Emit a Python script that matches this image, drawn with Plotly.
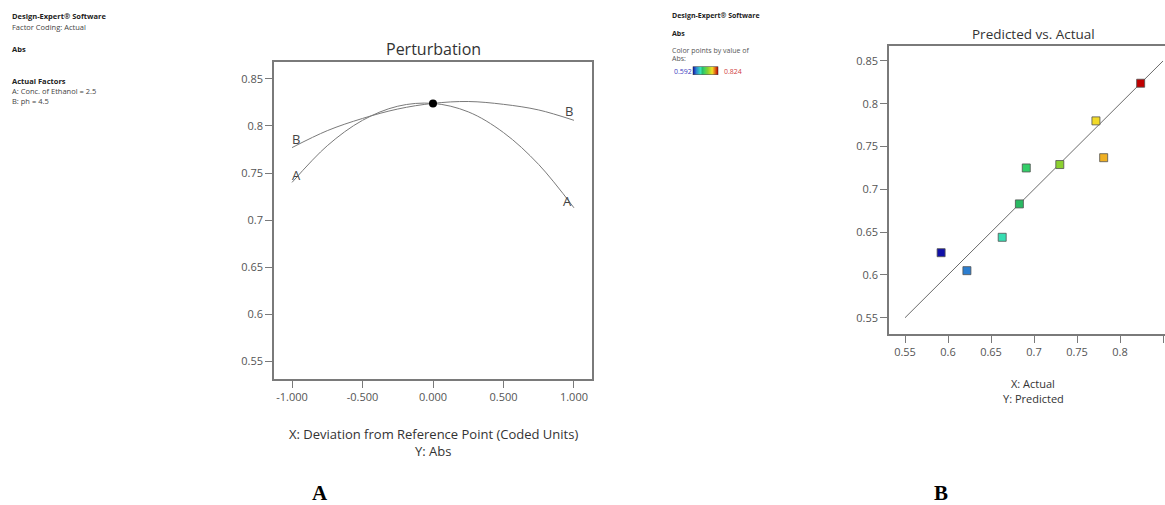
import plotly.graph_objects as go

# ---- Perturbation data (coded deviation vs Abs) ----
dev = [-1.0, -0.75, -0.5, -0.25, 0.0, 0.25, 0.5, 0.75, 1.0]
abs_A = [0.740, 0.779, 0.806, 0.821, 0.824, 0.815, 0.793, 0.759, 0.713]
abs_B = [0.777, 0.795, 0.808, 0.818, 0.824, 0.826, 0.823, 0.817, 0.806]
ref_point = (0.0, 0.824)
pert_xticks = [-1.0, -0.5, 0.0, 0.5, 1.0]
pert_xtick_labels = ["-1.000", "-0.500", "0.000", "0.500", "1.000"]
pert_yticks = [0.55, 0.6, 0.65, 0.7, 0.75, 0.8, 0.85]
pert_ytick_labels = ["0.55", "0.6", "0.65", "0.7", "0.75", "0.8", "0.85"]

# ---- Predicted vs Actual data ----
actual = [0.592, 0.622, 0.663, 0.683, 0.691, 0.730, 0.772, 0.781, 0.824]
predicted = [0.626, 0.605, 0.644, 0.683, 0.725, 0.729, 0.780, 0.737, 0.824]
diag = [0.55, 0.85]
pva_ticks = [0.55, 0.6, 0.65, 0.7, 0.75, 0.8, 0.85]
pva_tick_labels = ["0.55", "0.6", "0.65", "0.7", "0.75", "0.8", "0.85"]

W, H = 1165, 505
FONT = "Open Sans"
AX = "#7a7a7a"
TXT = "#555555"

fig = go.Figure()

# curves
fig.add_trace(go.Scatter(x=dev, y=abs_A, mode="lines", line=dict(color="#7a7a7a", width=1, shape="spline"),
                         xaxis="x", yaxis="y", showlegend=False, hoverinfo="skip"))
fig.add_trace(go.Scatter(x=dev, y=abs_B, mode="lines", line=dict(color="#7a7a7a", width=1, shape="spline"),
                         xaxis="x", yaxis="y", showlegend=False, hoverinfo="skip"))
fig.add_trace(go.Scatter(x=[ref_point[0]], y=[ref_point[1]], mode="markers",
                         marker=dict(color="black", size=8), xaxis="x", yaxis="y", showlegend=False))

# diagonal
fig.add_trace(go.Scatter(x=diag, y=diag, mode="lines", line=dict(color="#6a6a6a", width=1),
                         xaxis="x2", yaxis="y2", showlegend=False, hoverinfo="skip"))
colorscale = [
    [0.0, "#1010a8"], [0.13, "#2c7fd0"], [0.30, "#38e0b8"], [0.39, "#28b862"],
    [0.43, "#34d068"], [0.59, "#88d030"], [0.77, "#f2e028"], [0.81, "#f0b424"], [1.0, "#c00000"],
]
fig.add_trace(go.Scatter(
    x=actual, y=predicted, mode="markers", xaxis="x2", yaxis="y2", showlegend=False,
    marker=dict(symbol="square", size=8, color=actual, colorscale=colorscale,
                cmin=min(actual), cmax=max(actual),
                line=dict(color="#505050", width=0.8),
                colorbar=dict(orientation="h", x=705 / W, xanchor="center", y=1 - 71 / H, yanchor="middle",
                              len=25, lenmode="pixels", thickness=8, thicknessmode="pixels",
                              showticklabels=False, ticks="", outlinewidth=0.5, outlinecolor="#333",
                              xpad=0, ypad=0)),
))

common_axis = dict(showgrid=False, zeroline=False, showline=True, linecolor=AX, linewidth=1.5,
                   ticks="outside", ticklen=7, tickcolor=AX, tickwidth=1,
                   tickfont=dict(family=FONT, size=11, color=TXT))

fig.update_layout(
    width=W, height=H, margin=dict(l=0, r=0, t=0, b=0),
    paper_bgcolor="white", plot_bgcolor="white",
    xaxis=dict(domain=[274 / W, 592 / W], range=[-1.128, 1.128], tickvals=pert_xticks,
               ticktext=pert_xtick_labels, mirror=True, anchor="y", **common_axis),
    yaxis=dict(domain=[1 - 379 / H, 1 - 62 / H], range=[0.531, 0.868], tickvals=pert_yticks,
               ticktext=pert_ytick_labels, mirror=True, anchor="x", **common_axis),
    xaxis2=dict(domain=[889 / W, 1.0], range=[0.5314, 0.8523], tickvals=pva_ticks,
                ticktext=pva_tick_labels, mirror=True, anchor="y2", **common_axis),
    yaxis2=dict(domain=[1 - 334 / H, 1 - 46 / H], range=[0.531, 0.8675], tickvals=pva_ticks,
                ticktext=pva_tick_labels, mirror=False, anchor="x2", **common_axis),
)

ann = []
def txt(x, y, s, size=8, bold=False, color="#333", xanchor="left", family=FONT):
    ann.append(dict(x=x / W, y=1 - y / H, xref="paper", yref="paper", text=("<b>%s</b>" % s) if bold else s,
                    showarrow=False, xanchor=xanchor, yanchor="middle",
                    font=dict(family=family, size=size, color=color)))

# left info text
txt(10, 16, "Design-Expert® Software", 7.5, True, "#222")
txt(10, 27, "Factor Coding: Actual", 7.5, False, "#444")
txt(10, 49, "Abs", 7.5, True, "#222")
txt(10, 81, "Actual Factors", 7.5, True, "#222")
txt(10, 91, "A: Conc. of Ethanol = 2.5", 7.5, False, "#444")
txt(10, 101, "B: ph = 4.5", 7.5, False, "#444")

# right info text
txt(670, 15, "Design-Expert® Software", 7, True, "#222")
txt(670, 33, "Abs", 7, True, "#222")
txt(670, 51, "Color points by value of", 7, False, "#555")
txt(670, 59, "Abs:", 7, False, "#555")
txt(672, 71, "%.3f" % min(actual), 7, False, "#4040c0")
txt(722, 71, "%.3f" % max(actual), 7, False, "#d04040")

# titles
txt(433, 49, "Perturbation", 16, False, "#333", "center")
txt(433, 434, "X: Deviation from Reference Point (Coded Units)", 13, False, "#333", "center")
txt(433, 451, "Y: Abs", 13, False, "#333", "center")
txt(1033, 34, "Predicted vs. Actual", 13.5, False, "#333", "center")
txt(1033, 383, "X: Actual", 11, False, "#333", "center")
txt(1033, 398, "Y: Predicted", 11, False, "#333", "center")

# panel letters
txt(320, 493, "A", 21, True, "#000", "center", "Liberation Serif")
txt(941, 493, "B", 21, True, "#000", "center", "Liberation Serif")

# curve labels
for xv, yv, s, xs, ys in [(dev[0], abs_A[0], "A", 4, 7), (dev[0], abs_B[0], "B", 4, 9),
                          (dev[-1], abs_A[-1], "A", -6, 7), (dev[-1], abs_B[-1], "B", -5, 9)]:
    ann.append(dict(x=xv, y=yv, xref="x", yref="y", text=s, showarrow=False, xshift=xs, yshift=ys,
                    font=dict(family=FONT, size=13, color="#444")))

fig.update_layout(annotations=ann)
fig.write_html("out.html", config={"displayModeBar": False},
               post_script="document.body.style.margin='0px';document.body.style.padding='0px';")
